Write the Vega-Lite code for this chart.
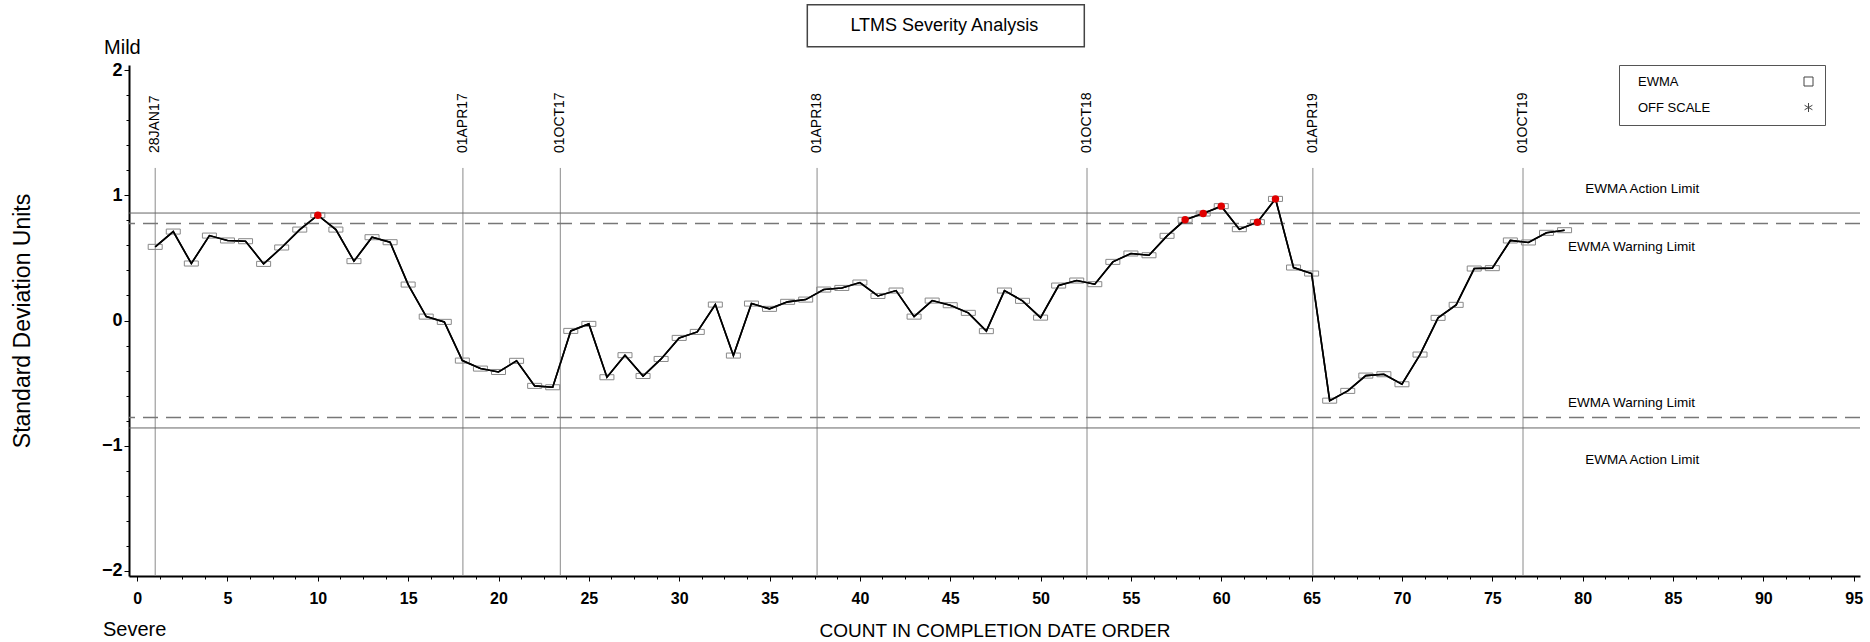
{
  "$schema": "https://vega.github.io/schema/vega-lite/v6.json",
  "width": 1731,
  "height": 511,
  "autosize": {"type": "none"},
  "padding": {"left": 129, "top": 65, "right": 10, "bottom": 66},
  "background": "white",
  "config": {"font": "Liberation Sans", "view": {"stroke": null}},
  "datasets": {
    "ewma": [
      {"n": 1, "v": 0.588}, {"n": 2, "v": 0.710}, {"n": 3, "v": 0.455}, {"n": 4, "v": 0.678}, {"n": 5, "v": 0.639},
      {"n": 6, "v": 0.633}, {"n": 7, "v": 0.452}, {"n": 8, "v": 0.583}, {"n": 9, "v": 0.726}, {"n": 10, "v": 0.841},
      {"n": 11, "v": 0.726}, {"n": 12, "v": 0.474}, {"n": 13, "v": 0.665}, {"n": 14, "v": 0.625}, {"n": 15, "v": 0.287},
      {"n": 16, "v": 0.031}, {"n": 17, "v": -0.011}, {"n": 18, "v": -0.320}, {"n": 19, "v": -0.384}, {"n": 20, "v": -0.411},
      {"n": 21, "v": -0.322}, {"n": 22, "v": -0.522}, {"n": 23, "v": -0.533}, {"n": 24, "v": -0.083}, {"n": 25, "v": -0.027},
      {"n": 26, "v": -0.453}, {"n": 27, "v": -0.277}, {"n": 28, "v": -0.443}, {"n": 29, "v": -0.307}, {"n": 30, "v": -0.139},
      {"n": 31, "v": -0.091}, {"n": 32, "v": 0.127}, {"n": 33, "v": -0.280}, {"n": 34, "v": 0.135}, {"n": 35, "v": 0.093},
      {"n": 36, "v": 0.149}, {"n": 37, "v": 0.167}, {"n": 38, "v": 0.247}, {"n": 39, "v": 0.260}, {"n": 40, "v": 0.303},
      {"n": 41, "v": 0.196}, {"n": 42, "v": 0.239}, {"n": 43, "v": 0.031}, {"n": 44, "v": 0.159}, {"n": 45, "v": 0.122},
      {"n": 46, "v": 0.061}, {"n": 47, "v": -0.085}, {"n": 48, "v": 0.239}, {"n": 49, "v": 0.157}, {"n": 50, "v": 0.023},
      {"n": 51, "v": 0.279}, {"n": 52, "v": 0.319}, {"n": 53, "v": 0.290}, {"n": 54, "v": 0.468}, {"n": 55, "v": 0.535},
      {"n": 56, "v": 0.521}, {"n": 57, "v": 0.676}, {"n": 58, "v": 0.804}, {"n": 59, "v": 0.854}, {"n": 60, "v": 0.913},
      {"n": 61, "v": 0.729}, {"n": 62, "v": 0.785}, {"n": 63, "v": 0.971}, {"n": 64, "v": 0.423}, {"n": 65, "v": 0.375},
      {"n": 66, "v": -0.640}, {"n": 67, "v": -0.562}, {"n": 68, "v": -0.440}, {"n": 69, "v": -0.429}, {"n": 70, "v": -0.509},
      {"n": 71, "v": -0.272}, {"n": 72, "v": 0.021}, {"n": 73, "v": 0.125}, {"n": 74, "v": 0.415}, {"n": 75, "v": 0.418},
      {"n": 76, "v": 0.639}, {"n": 77, "v": 0.623}, {"n": 78, "v": 0.700}, {"n": 79, "v": 0.721}
    ],
    "dates": [
      {"date": "28JAN17", "n": 1.0}, {"date": "01APR17", "n": 18.03}, {"date": "01OCT17", "n": 23.42},
      {"date": "01APR18", "n": 37.63}, {"date": "01OCT18", "n": 52.57}, {"date": "01APR19", "n": 65.07},
      {"date": "01OCT19", "n": 76.7}
    ],
    "limits": [
      {"label": "EWMA Action Limit", "kind": "Action", "v": 0.858},
      {"label": "EWMA Warning Limit", "kind": "Warning", "v": 0.775},
      {"label": "EWMA Warning Limit", "kind": "Warning", "v": -0.775},
      {"label": "EWMA Action Limit", "kind": "Action", "v": -0.858}
    ],
    "notes": [
      {"title": "LTMS Severity Analysis", "top": "Mild", "bottom": "Severe"}
    ]
  },
  "layer": [
    {
      "data": {"name": "ewma"},
      "mark": {"type": "line", "color": "black", "strokeWidth": 1.6},
      "encoding": {
        "x": {
          "field": "n",
          "type": "quantitative",
          "scale": {"domain": [-0.45, 95.35], "nice": false, "zero": false},
          "axis": {
            "title": "COUNT IN COMPLETION DATE ORDER",
            "titleFontSize": 19,
            "titleFontWeight": "normal",
            "titleColor": "black",
            "titleBaseline": "middle",
            "titleY": 54,
            "tickCount": 200,
            "values": [0,1.25,2.5,3.75,5,6.25,7.5,8.75,10,11.25,12.5,13.75,15,16.25,17.5,18.75,20,21.25,22.5,23.75,25,26.25,27.5,28.75,30,31.25,32.5,33.75,35,36.25,37.5,38.75,40,41.25,42.5,43.75,45,46.25,47.5,48.75,50,51.25,52.5,53.75,55,56.25,57.5,58.75,60,61.25,62.5,63.75,65,66.25,67.5,68.75,70,71.25,72.5,73.75,75,76.25,77.5,78.75,80,81.25,82.5,83.75,85,86.25,87.5,88.75,90,91.25,92.5,93.75,95],
            "labelExpr": "datum.value % 5 === 0 ? format(datum.value, 'd') : ''",
            "labelOverlap": false,
            "labelSeparation": 0,
            "labelFontSize": 16,
            "labelFontWeight": "bold",
            "labelColor": "black",
            "labelPadding": 9,
            "labelFlush": false,
            "tickSize": {"condition": {"test": "datum.value % 5 === 0", "value": 5}, "value": 3},
            "tickColor": "black",
            "tickWidth": 1,
            "domainColor": "black",
            "domainWidth": 2,
            "grid": false
          }
        },
        "y": {
          "field": "v",
          "type": "quantitative",
          "scale": {"domain": [-2.04, 2.04], "nice": false, "zero": false},
          "axis": {
            "title": "Standard Deviation Units",
            "titleFontSize": 23,
            "titleFontWeight": "normal",
            "titleColor": "black",
            "titleAngle": 270,
            "titleAlign": "center",
            "titleBaseline": "middle",
            "titleX": -107,
            "titleY": 255.5,
            "tickCount": 200,
            "values": [-2,-1.8,-1.6,-1.4,-1.2,-1,-0.8,-0.6,-0.4,-0.2,0,0.2,0.4,0.6,0.8,1,1.2,1.4,1.6,1.8,2],
            "labelExpr": "abs(datum.value - round(datum.value)) < 0.001 ? format(round(datum.value), 'd') : ''",
            "labelOverlap": false,
            "labelSeparation": 0,
            "labelBound": false,
            "labelFontSize": 18,
            "labelFontWeight": "bold",
            "labelColor": "black",
            "labelPadding": 2,
            "labelFlush": false,
            "tickSize": {"condition": {"test": "abs(datum.value - round(datum.value)) < 0.001", "value": 5}, "value": 3},
            "tickColor": "black",
            "tickWidth": 1,
            "domainColor": "black",
            "domainWidth": 2,
            "grid": false
          }
        }
      }
    },
    {
      "data": {"name": "notes"},
      "mark": {"type": "rect", "fill": "transparent", "stroke": "#444", "strokeWidth": 1.5},
      "encoding": {
        "x": {"datum": 37.09, "type": "quantitative"},
        "x2": {"datum": 52.42},
        "y": {"datum": 2.185, "type": "quantitative"},
        "y2": {"datum": 2.521}
      }
    },
    {
      "data": {"name": "notes"},
      "mark": {"type": "text", "fontSize": 18, "align": "center", "baseline": "middle", "color": "black"},
      "encoding": {
        "x": {"datum": 44.67, "type": "quantitative"},
        "y": {"datum": 2.353, "type": "quantitative"},
        "text": {"field": "title"}
      }
    },
    {
      "data": {"name": "notes"},
      "mark": {"type": "text", "fontSize": 20, "align": "left", "baseline": "middle", "color": "black"},
      "encoding": {
        "x": {"datum": -1.83, "type": "quantitative"},
        "y": {"datum": 2.178, "type": "quantitative"},
        "text": {"field": "top"}
      }
    },
    {
      "data": {"name": "notes"},
      "mark": {"type": "text", "fontSize": 20, "align": "left", "baseline": "middle", "color": "black"},
      "encoding": {
        "x": {"datum": -1.89, "type": "quantitative"},
        "y": {"datum": -2.471, "type": "quantitative"},
        "text": {"field": "bottom"}
      }
    },
    {
      "data": {"name": "dates"},
      "mark": {"type": "rule", "color": "#8a8a8a", "strokeWidth": 1},
      "encoding": {
        "x": {"field": "n", "type": "quantitative"},
        "y": {"datum": 1.218, "type": "quantitative"},
        "y2": {"datum": -2.04}
      }
    },
    {
      "data": {"name": "dates"},
      "mark": {"type": "text", "angle": 270, "align": "left", "baseline": "middle", "fontSize": 14, "color": "black"},
      "encoding": {
        "x": {"field": "n", "type": "quantitative"},
        "y": {"datum": 1.337, "type": "quantitative"},
        "text": {"field": "date"}
      }
    },
    {
      "data": {"name": "limits"},
      "transform": [{"filter": "datum.kind === 'Action'"}],
      "mark": {"type": "rule", "color": "#666", "strokeWidth": 1},
      "encoding": {"y": {"field": "v", "type": "quantitative"}}
    },
    {
      "data": {"name": "limits"},
      "transform": [{"filter": "datum.kind === 'Warning'"}],
      "mark": {"type": "rule", "color": "#777", "strokeWidth": 1.5, "strokeDash": [15, 8]},
      "encoding": {"y": {"field": "v", "type": "quantitative"}}
    },
    {
      "data": {"name": "limits"},
      "transform": [{"filter": "datum.kind === 'Action' && datum.v > 0"}],
      "mark": {"type": "text", "fontSize": 13.5, "align": "center", "baseline": "middle", "dy": -24, "color": "black"},
      "encoding": {
        "x": {"datum": 83.3, "type": "quantitative"},
        "y": {"field": "v", "type": "quantitative"},
        "text": {"field": "label"}
      }
    },
    {
      "data": {"name": "limits"},
      "transform": [{"filter": "datum.kind === 'Warning' && datum.v > 0"}],
      "mark": {"type": "text", "fontSize": 13.5, "align": "center", "baseline": "middle", "dy": 23.3, "color": "black"},
      "encoding": {
        "x": {"datum": 82.7, "type": "quantitative"},
        "y": {"field": "v", "type": "quantitative"},
        "text": {"field": "label"}
      }
    },
    {
      "data": {"name": "limits"},
      "transform": [{"filter": "datum.kind === 'Warning' && datum.v < 0"}],
      "mark": {"type": "text", "fontSize": 13.5, "align": "center", "baseline": "middle", "dy": -14.9, "color": "black"},
      "encoding": {
        "x": {"datum": 82.7, "type": "quantitative"},
        "y": {"field": "v", "type": "quantitative"},
        "text": {"field": "label"}
      }
    },
    {
      "data": {"name": "limits"},
      "transform": [{"filter": "datum.kind === 'Action' && datum.v < 0"}],
      "mark": {"type": "text", "fontSize": 13.5, "align": "center", "baseline": "middle", "dy": 32, "color": "black"},
      "encoding": {
        "x": {"datum": 83.3, "type": "quantitative"},
        "y": {"field": "v", "type": "quantitative"},
        "text": {"field": "label"}
      }
    },
    {
      "data": {"name": "ewma"},
      "mark": {"type": "point", "filled": false, "size": 196, "color": "#888", "strokeWidth": 1, "opacity": 1, "shape": "M-1,-0.36H1V0.36H-1Z"},
      "encoding": {
        "x": {"field": "n", "type": "quantitative"},
        "y": {"field": "v", "type": "quantitative"}
      }
    },
    {
      "data": {"name": "notes"},
      "mark": {"type": "point", "filled": false, "size": 81, "color": "#444", "strokeWidth": 1, "opacity": 0},
      "encoding": {
        "x": {"datum": 1, "type": "quantitative"},
        "y": {"datum": 0, "type": "quantitative"},
        "shape": {
          "datum": "EWMA",
          "type": "nominal",
          "scale": {"domain": ["EWMA", "OFF SCALE"], "range": ["square", "M0,-1L0,1M-0.87,-0.5L0.87,0.5M-0.87,0.5L0.87,-0.5"]},
          "legend": {
            "title": null,
            "orient": "none",
            "legendX": 1490,
            "legendY": 0,
            "fillColor": "white",
            "strokeColor": "#555",
            "padding": 10,
            "labelFont": "Liberation Sans",
            "labelFontSize": 13,
            "labelColor": "black",
            "labelOffset": -177,
            "symbolOffset": 173,
            "rowPadding": 12,
            "symbolSize": 81,
            "symbolStrokeWidth": 1,
            "encode": {
              "symbols": {
                "update": {
                  "size": {"value": 81},
                  "stroke": {"value": "#444"},
                  "fill": {"value": "transparent"},
                  "opacity": {"value": 1}
                }
              }
            }
          }
        }
      }
    },
    {
      "data": {"name": "ewma"},
      "mark": {"type": "line", "color": "black", "strokeWidth": 1.6},
      "encoding": {
        "x": {"field": "n", "type": "quantitative"},
        "y": {"field": "v", "type": "quantitative"}
      }
    },
    {
      "data": {"name": "ewma"},
      "transform": [{"filter": "abs(datum.v) > 0.776"}],
      "mark": {"type": "circle", "size": 55, "color": "#e00000", "opacity": 1},
      "encoding": {
        "x": {"field": "n", "type": "quantitative"},
        "y": {"field": "v", "type": "quantitative"}
      }
    }
  ]
}
